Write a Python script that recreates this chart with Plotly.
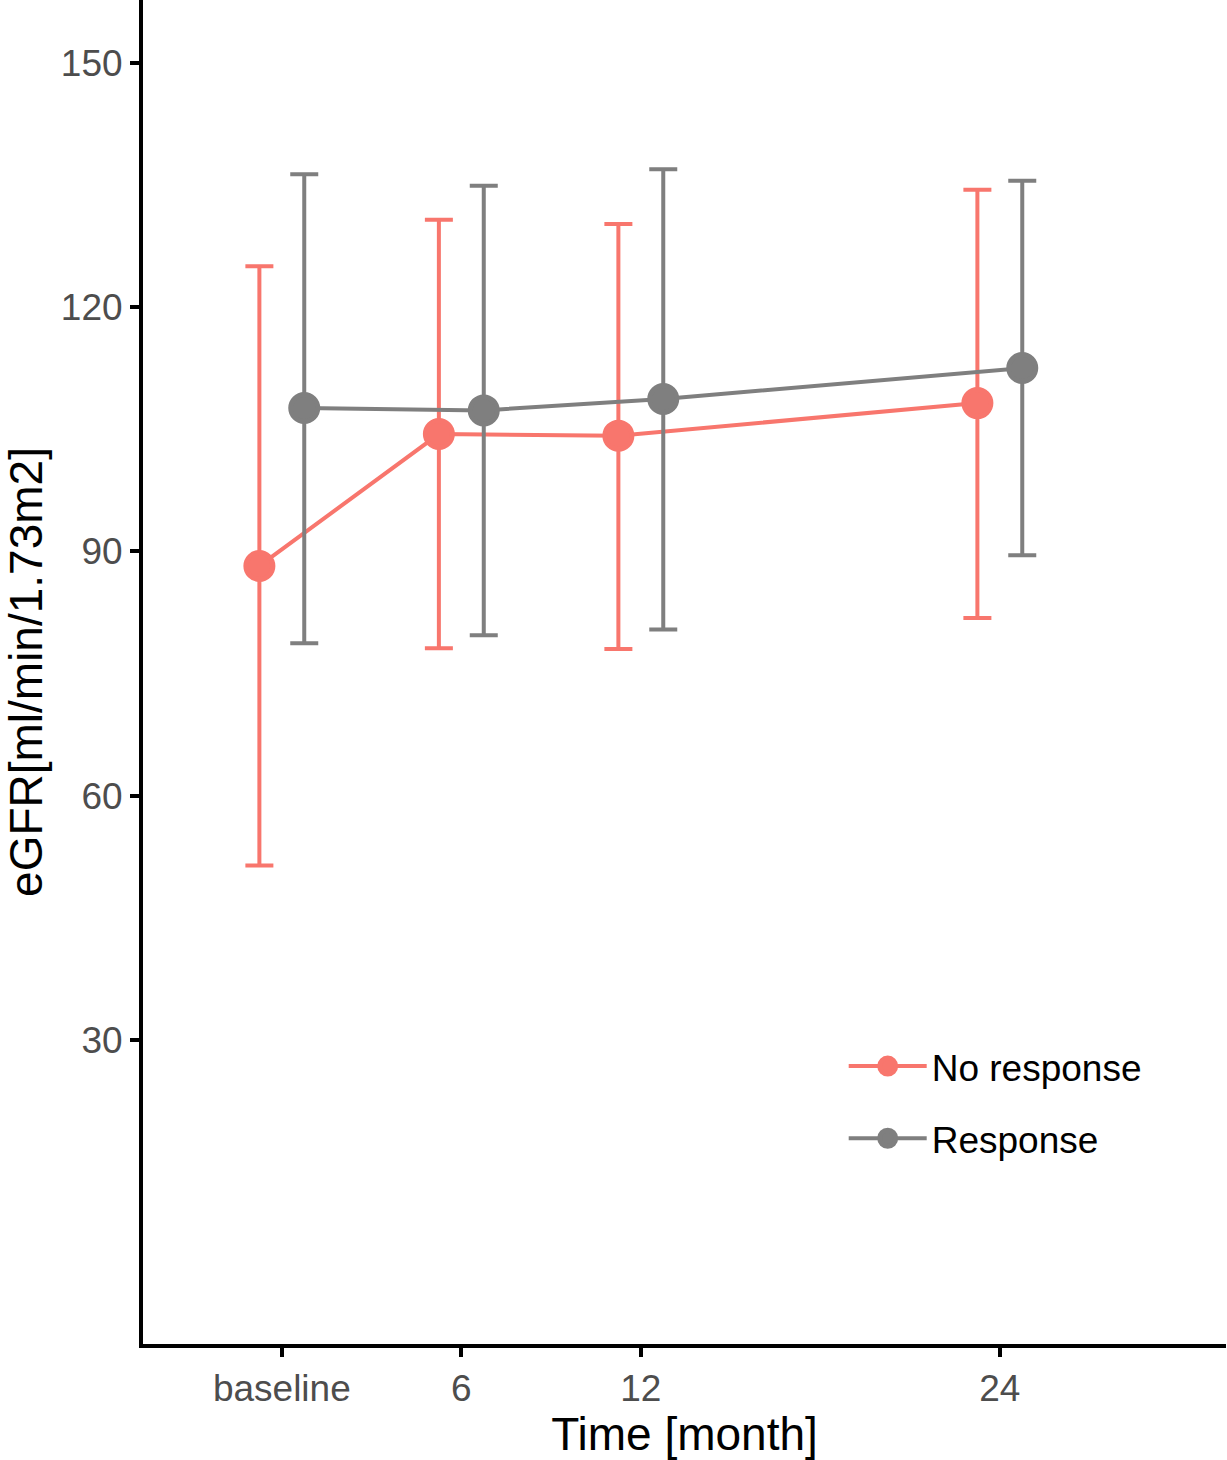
import plotly.graph_objects as go

# ---- data ----
time_months = [0, 6, 12, 24]
tick_labels = ["baseline", "6", "12", "24"]

no_resp_mean = [88.2, 104.4, 104.2, 108.2]
no_resp_upper = [125.0, 130.7, 130.2, 134.4]
no_resp_lower = [51.4, 78.1, 78.0, 81.8]

resp_mean = [107.6, 107.3, 108.7, 112.5]
resp_upper = [136.3, 134.9, 136.9, 135.5]
resp_lower = [78.7, 79.7, 80.4, 89.5]

y_ticks = [30, 60, 90, 120, 150]

# ---- styling ----
RED = "#F8766D"
GREY = "#7F7F7F"
DODGE = 0.75
FONT = "Liberation Sans, Arial, sans-serif"

fig = go.Figure()


def add_group(name, mean, upper, lower, color, offset):
    xs = [t + offset for t in time_months]
    fig.add_trace(go.Scatter(
        x=xs, y=mean, name=name, legendgroup=name,
        mode="lines+markers",
        line=dict(color=color, width=4),
        marker=dict(color=color, size=27, line=dict(color=color, width=5)),
        error_y=dict(
            type="data", symmetric=False,
            array=[u - m for u, m in zip(upper, mean)],
            arrayminus=[m - l for m, l in zip(mean, lower)],
            color=color, thickness=4, width=14,
        ),
    ))


add_group("No response", no_resp_mean, no_resp_upper, no_resp_lower, RED, -DODGE)
add_group("Response", resp_mean, resp_upper, resp_lower, GREY, DODGE)

fig.update_layout(
    width=1227, height=1460,
    margin=dict(l=143, r=1, t=0, b=116),
    paper_bgcolor="white", plot_bgcolor="white",
    font=dict(family=FONT, color="black"),
    legend=dict(
        x=0.647, y=0.2295, xanchor="left", yanchor="top",
        font=dict(size=37, color="black"),
        tracegroupgap=21, itemsizing="trace", itemwidth=78,
        bgcolor="rgba(0,0,0,0)",
    ),
    xaxis=dict(
        range=[-4.64, 31.56],
        tickmode="array", tickvals=time_months, ticktext=tick_labels,
        showline=True, linecolor="black", linewidth=4,
        ticks="outside", ticklen=9, tickwidth=4, tickcolor="black",
        tickfont=dict(size=37, color="#4D4D4D"),
        showgrid=False, zeroline=False,
        title=dict(text="Time [month]", font=dict(size=46, color="black"), standoff=3),
    ),
    yaxis=dict(
        range=[-7.35, 157.7],
        tickmode="array", tickvals=y_ticks,
        showline=True, linecolor="black", linewidth=4,
        ticks="outside", ticklen=9, tickwidth=4, tickcolor="black",
        tickfont=dict(size=37, color="#4D4D4D"),
        showgrid=False, zeroline=False,
        title=dict(text="eGFR[ml/min/1.73m2]", font=dict(size=46, color="black"), standoff=12),
    ),
)

fig.write_html("out.html")
